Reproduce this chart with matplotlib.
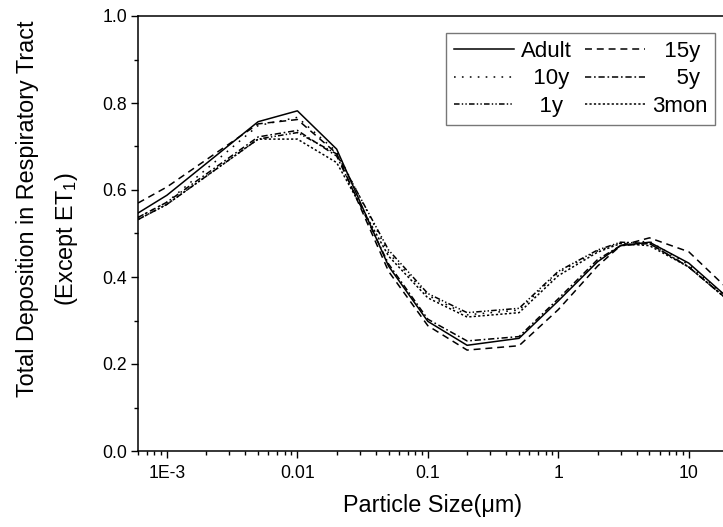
import numpy as np
import matplotlib
matplotlib.use('Agg')
import matplotlib.pyplot as plt
from matplotlib.ticker import FixedLocator, FixedFormatter, LogLocator, MultipleLocator, NullFormatter

plt.rcParams['font.family'] = ['Liberation Sans', 'DejaVu Sans']
plt.rcParams['mathtext.default'] = 'regular'
plt.rcParams['lines.scale_dashes'] = False

# particle size (um) and total deposition fraction for each age group
size = [0.0006, 0.001, 0.005, 0.01, 0.02, 0.05, 0.1, 0.2, 0.5, 1, 2, 3, 5, 10, 20]
adult = [0.547, 0.588, 0.757, 0.782, 0.694, 0.425, 0.298, 0.243, 0.259, 0.345, 0.435, 0.472, 0.480, 0.432, 0.352]
y15 = [0.570, 0.607, 0.752, 0.762, 0.684, 0.413, 0.288, 0.232, 0.242, 0.325, 0.425, 0.472, 0.490, 0.458, 0.372]
y10 = [0.537, 0.572, 0.748, 0.767, 0.688, 0.455, 0.358, 0.313, 0.324, 0.410, 0.460, 0.478, 0.482, 0.428, 0.352]
y5 = [0.537, 0.572, 0.722, 0.737, 0.678, 0.430, 0.303, 0.253, 0.263, 0.350, 0.440, 0.472, 0.477, 0.423, 0.347]
y1 = [0.532, 0.567, 0.717, 0.732, 0.683, 0.462, 0.362, 0.318, 0.328, 0.413, 0.462, 0.480, 0.477, 0.423, 0.347]
mon3 = [0.532, 0.567, 0.717, 0.717, 0.663, 0.448, 0.352, 0.308, 0.318, 0.403, 0.457, 0.477, 0.472, 0.423, 0.347]

fig = plt.figure(figsize=(7.23, 5.27), dpi=100)
ax = fig.add_axes([138 / 723, 1 - 451 / 527, 590 / 723, 435 / 527])

lw = 1.1
h_adult, = ax.plot(size, adult, color='black', lw=lw, ls='-', label='Adult')
h15, = ax.plot(size, y15, color='black', lw=lw, dashes=(5, 3.5), label='  15y')
h10, = ax.plot(size, y10, color='black', lw=lw, dashes=(1.2, 4.5), label='  10y')
h5, = ax.plot(size, y5, color='black', lw=lw, dashes=(4.5, 2, 1.2, 2), label='    5y')
h1, = ax.plot(size, y1, color='black', lw=lw, dashes=(4, 1.6, 1, 1.6, 1, 1.6), label='   1y')
h3, = ax.plot(size, mon3, color='black', lw=lw, dashes=(1.6, 1.6), label='3mon')

ax.set_xscale('log')
ax.set_xlim(6e-4, 20)
ax.set_ylim(0, 1.0)

ax.xaxis.set_major_locator(FixedLocator([1e-3, 1e-2, 1e-1, 1, 10]))
ax.xaxis.set_major_formatter(FixedFormatter(['1E-3', '0.01', '0.1', '1', '10']))
ax.xaxis.set_minor_locator(LogLocator(base=10, subs=np.arange(2, 10), numticks=20))
ax.xaxis.set_minor_formatter(NullFormatter())
ax.yaxis.set_major_locator(MultipleLocator(0.2))
ax.yaxis.set_minor_locator(MultipleLocator(0.1))
ax.yaxis.set_major_formatter(plt.FuncFormatter(lambda v, p: '%.1f' % v))

ax.tick_params(which='major', direction='out', length=5, width=1, labelsize=12.7, pad=3)
ax.tick_params(which='minor', direction='out', length=3, width=1)
ax.tick_params(axis='x', which='major', pad=5)
for s in ['left', 'bottom', 'top']:
    ax.spines[s].set_linewidth(1.1)
ax.spines['right'].set_visible(False)

ax.set_xlabel('Particle Size(\u03bcm)', fontsize=16.8, labelpad=9)

fig.text(28 / 723, 1 - 209 / 527, 'Total Deposition in Respiratory Tract', rotation=90,
         ha='center', va='center', fontsize=16.8)
fig.text(66 / 723, 1 - 239 / 527, '(Except ET$_1$)', rotation=90,
         ha='center', va='center', fontsize=16.8)

leg = ax.legend(handles=[h_adult, h10, h1, h15, h5, h3], ncol=2, fontsize=16,
                loc='upper right', bbox_to_anchor=(0.978, 0.961), borderaxespad=0,
                fancybox=False, edgecolor='#555555', handlelength=2.7, handletextpad=0.3,
                columnspacing=0.6, labelspacing=0.3, borderpad=0.35)
leg.get_frame().set_linewidth(1.0)

fig.savefig('out.png', dpi=100)
